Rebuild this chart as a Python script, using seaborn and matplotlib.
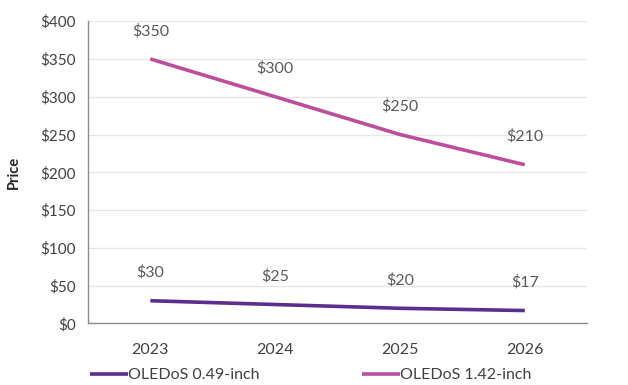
import pandas as pd
import matplotlib
matplotlib.use('Agg')
import matplotlib.pyplot as plt
import seaborn as sns

# Chart data
years = ['2023', '2024', '2025', '2026']
price_049 = [30, 25, 20, 17]
price_142 = [350, 300, 250, 210]
series_names = ['OLEDoS 0.49-inch', 'OLEDoS 1.42-inch']

df = pd.DataFrame({
    'year': years * 2,
    'price': price_049 + price_142,
    'series': [series_names[0]] * 4 + [series_names[1]] * 4,
})

sns.set_style('white')
plt.rcParams['font.family'] = ['Lato', 'DejaVu Sans']

text_gray = '#595959'
colors = {series_names[0]: '#5B2D8E', series_names[1]: '#BB4F9C'}

fig, ax = plt.subplots(figsize=(6.28, 3.85), dpi=100)
fig.subplots_adjust(left=0.14, right=0.935, top=0.945, bottom=0.16)

sns.lineplot(data=df, x='year', y='price', hue='series', palette=colors,
             linewidth=2.6, ax=ax, sort=False)
for line in ax.lines:
    line.set_solid_capstyle('butt')

# Data labels above each point
for name, vals in zip(series_names, [price_049, price_142]):
    for i, v in enumerate(vals):
        ax.annotate(f'${v}', (i, v), xytext=(0, 15), textcoords='offset points',
                    ha='center', va='bottom', fontsize=11.5, color=text_gray)

ax.set_xlim(-0.5, 3.5)
ax.set_ylim(0, 400)
ax.set_yticks(range(0, 401, 50))
ax.set_yticklabels([f'${v}' for v in range(0, 401, 50)])
ax.yaxis.grid(True, color='#E6E6E6', linewidth=1)
ax.set_axisbelow(True)

# Category ticks between the bins
ax.set_xticks([-0.5, 0.5, 1.5, 2.5, 3.5], minor=True)
ax.tick_params(axis='x', which='minor', length=5, direction='out', color='#8C8C8C', width=1)
ax.tick_params(axis='x', which='major', length=0, pad=14, labelsize=11.5, labelcolor='#404040')
ax.tick_params(axis='y', length=5, direction='out', color='#8C8C8C', width=1,
               labelsize=11, labelcolor='#404040')

for s in ['top', 'right']:
    ax.spines[s].set_visible(False)
for s in ['left', 'bottom']:
    ax.spines[s].set_color('#8C8C8C')
    ax.spines[s].set_linewidth(1)

ax.set_xlabel('')
ax.set_ylabel('Price', fontsize=10.5, fontweight='bold', color='#262626', labelpad=14)

handles, labels = ax.get_legend_handles_labels()
ax.get_legend().remove()
fig.legend(handles, labels, loc='center left', bbox_to_anchor=(0.125, 0.025), ncol=2,
           frameon=False, fontsize=11.5, handlelength=2.4, handletextpad=0.0,
           columnspacing=6.4, labelcolor='#404040', borderpad=0.2)

fig.savefig('out.png', dpi=100)
